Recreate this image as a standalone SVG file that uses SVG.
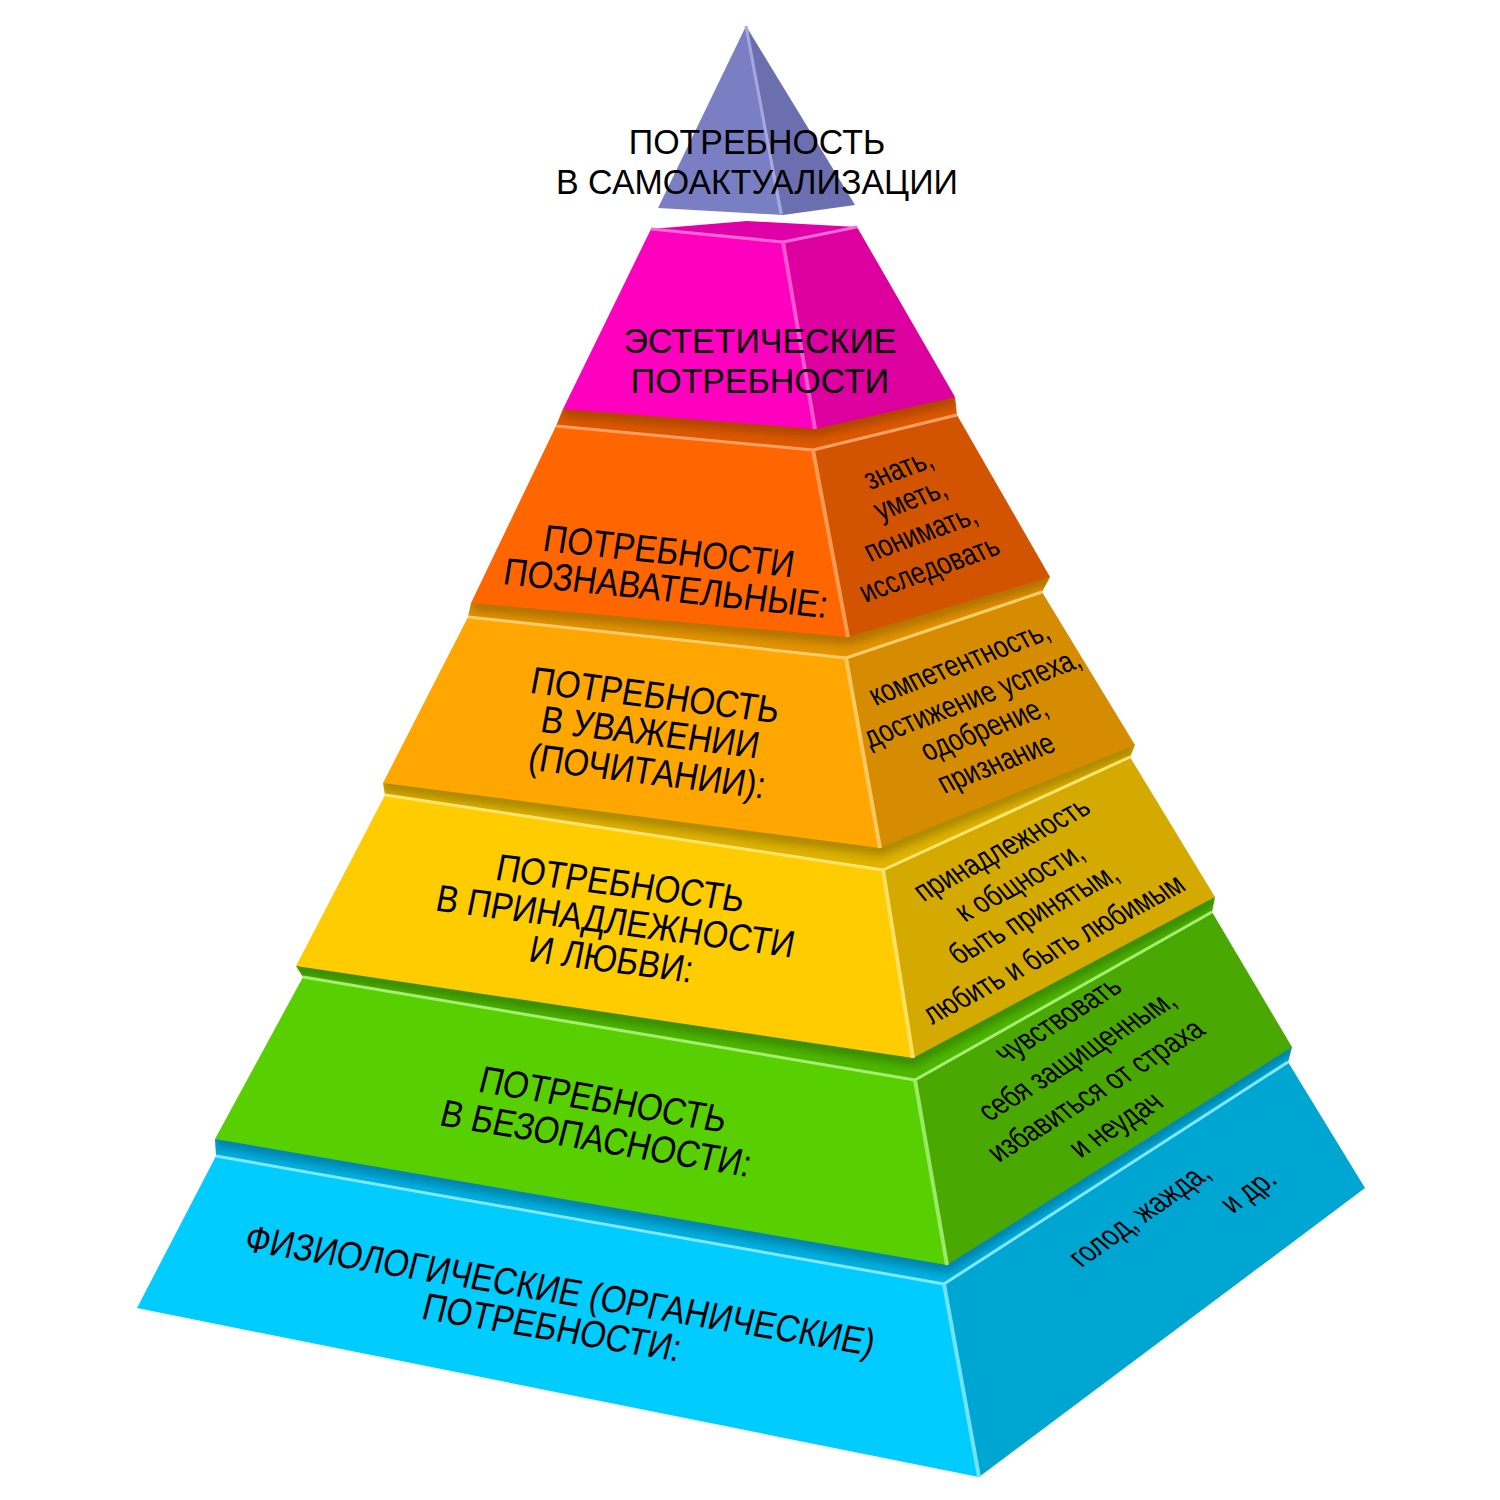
<svg xmlns="http://www.w3.org/2000/svg" width="1500" height="1500" viewBox="0 0 1500 1500">
<style>
.t{font-family:"Liberation Sans",Arial,sans-serif;font-size:38px;text-anchor:middle;fill:#000}
.tt{font-family:"Liberation Sans",Arial,sans-serif;font-size:35px;text-anchor:middle;fill:#000}
.s{font-family:"Liberation Sans",Arial,sans-serif;font-size:31px;text-anchor:middle;fill:#000}
.hl{fill:none;stroke-width:3;stroke-linejoin:round}
.sh{fill:none;stroke-width:16;opacity:0.55;filter:url(#blur)}
</style>
<defs>
<filter id="blur" x="-20%" y="-50%" width="140%" height="200%"><feGaussianBlur stdDeviation="5"/></filter>
<clipPath id="c7"><polygon points="216,1156 944,1284 1288,1062 1292,1047 700,1120 215,1139"/></clipPath>
<clipPath id="c6"><polygon points="303,977 915,1080 1212,912 1215,897 650,950 296,966"/></clipPath>
<clipPath id="c5"><polygon points="385,795 883,870 1130,757 1135,745 700,760 383,783"/></clipPath>
<clipPath id="c4"><polygon points="468,617 846,658 1042,592 1050,577 700,580 471,603"/></clipPath>
<clipPath id="c3"><polygon points="556,426 813,450 957,415 955,397 700,380 563,409"/></clipPath>
</defs>
<rect width="1500" height="1500" fill="#fff"/>

<g id="connectors"/>

<g id="level7-physiological">
<polygon points="216,1156 944,1284 1288,1062 1292,1047 700,1120 215,1139" fill="#00B2E2"/>
<polyline class="sh" clip-path="url(#c7)" points="215,1139 947,1265 1292,1047" stroke="#005F80"/>
<polygon points="216,1156 944,1284 979,1477 137,1308" fill="#00CCFF"/>
<polygon points="944,1284 1288,1062 1365,1188 979,1477" fill="#00A6D2"/>
<polyline class="hl" points="216,1156 944,1284 1288,1062" stroke="#80E8FF"/>
<line x1="944" y1="1284" x2="979" y2="1477" stroke="#70E4FF" stroke-width="4"/>
<text class="t" transform="translate(557,1303) rotate(9.5) skewX(-4.75) scale(0.87,1)">ФИЗИОЛОГИЧЕСКИЕ (ОРГАНИЧЕСКИЕ)</text>
<text class="t" transform="translate(549,1340) rotate(9.5) skewX(-4.75) scale(0.87,1)">ПОТРЕБНОСТИ:</text>
<text class="s" transform="translate(1147,1222) rotate(-35) skewX(14) scale(0.8,1)">голод, жажда,</text>
<text class="s" transform="translate(1256,1198) rotate(-35) skewX(14) scale(0.8,1)">и др.</text>
</g>

<g id="level6-safety">
<polygon points="303,977 915,1080 1212,912 1215,897 650,950 296,966" fill="#4EB800"/>
<polyline class="sh" clip-path="url(#c6)" points="296,966 913,1058 1215,897" stroke="#2A6600"/>
<polygon points="303,977 915,1080 947,1265 215,1139" fill="#58CF00"/>
<polygon points="915,1080 1212,912 1292,1047 947,1265" fill="#4AA803"/>
<polyline class="hl" points="303,977 915,1080 1212,912" stroke="#A6EE72"/>
<line x1="915" y1="1080" x2="947" y2="1265" stroke="#9BEA66" stroke-width="4"/>
<text class="t" transform="translate(600,1112) rotate(9.5) skewX(-4.75) scale(0.87,1)">ПОТРЕБНОСТЬ</text>
<text class="t" transform="translate(593,1151) rotate(9.5) skewX(-4.75) scale(0.87,1)">В БЕЗОПАСНОСТИ:</text>
<text class="s" transform="translate(1065,1027) rotate(-32) skewX(12.8) scale(0.8,1)">чувствовать</text>
<text class="s" transform="translate(1084,1063) rotate(-32) skewX(12.8) scale(0.8,1)">себя защищенным,</text>
<text class="s" transform="translate(1103,1098) rotate(-32) skewX(12.8) scale(0.8,1)">избавиться от страха</text>
<text class="s" transform="translate(1123,1132) rotate(-32) skewX(12.8) scale(0.8,1)">и неудач</text>
</g>

<g id="level5-belonging">
<polygon points="385,795 883,870 1130,757 1135,745 700,760 383,783" fill="#E0B400"/>
<polyline class="sh" clip-path="url(#c5)" points="383,783 880,848 1135,745" stroke="#806400"/>
<polygon points="385,795 883,870 913,1058 296,966" fill="#FFCC00"/>
<polygon points="883,870 1130,757 1215,897 913,1058" fill="#D4AA00"/>
<polyline class="hl" points="385,795 883,870 1130,757" stroke="#FFE470"/>
<line x1="883" y1="870" x2="913" y2="1058" stroke="#FFE060" stroke-width="4"/>
<text class="t" transform="translate(618,896) rotate(7.5) skewX(-3.75) scale(0.87,1)">ПОТРЕБНОСТЬ</text>
<text class="t" transform="translate(613,934) rotate(7.5) skewX(-3.75) scale(0.87,1)">В ПРИНАДЛЕЖНОСТИ</text>
<text class="t" transform="translate(609,972) rotate(7.5) skewX(-3.75) scale(0.87,1)">И ЛЮБВИ:</text>
<text class="s" transform="translate(1008,857) rotate(-28) skewX(11.2) scale(0.8,1)">принадлежность</text>
<text class="s" transform="translate(1026,890) rotate(-28) skewX(11.2) scale(0.8,1)">к общности,</text>
<text class="s" transform="translate(1040,922) rotate(-28) skewX(11.2) scale(0.8,1)">быть принятым,</text>
<text class="s" transform="translate(1060,957) rotate(-28) skewX(11.2) scale(0.8,1)">любить и быть любимым</text>
</g>

<g id="level4-esteem">
<polygon points="468,617 846,658 1042,592 1050,577 700,580 471,603" fill="#E39400"/>
<polyline class="sh" clip-path="url(#c4)" points="471,603 848,637 1050,577" stroke="#8A5600"/>
<polygon points="468,617 846,658 880,848 383,783" fill="#FFA600"/>
<polygon points="846,658 1042,592 1135,745 880,848" fill="#D68C00"/>
<polyline class="hl" points="468,617 846,658 1042,592" stroke="#FFCB6B"/>
<line x1="846" y1="658" x2="880" y2="848" stroke="#FFC860" stroke-width="4"/>
<text class="t" transform="translate(653,708) rotate(7) skewX(-3.5) scale(0.87,1)">ПОТРЕБНОСТЬ</text>
<text class="t" transform="translate(648,745) rotate(7) skewX(-3.5) scale(0.87,1)">В УВАЖЕНИИ</text>
<text class="t" transform="translate(645,784) rotate(7) skewX(-3.5) scale(0.87,1)">(ПОЧИТАНИИ):</text>
<text class="s" transform="translate(964,672) rotate(-21) skewX(8.4) scale(0.8,1)">компетентность,</text>
<text class="s" transform="translate(977,707) rotate(-21) skewX(8.4) scale(0.8,1)">достижение успеха,</text>
<text class="s" transform="translate(989,738) rotate(-21) skewX(8.4) scale(0.8,1)">одобрение,</text>
<text class="s" transform="translate(1001,772) rotate(-21) skewX(8.4) scale(0.8,1)">признание</text>
</g>

<g id="level3-cognitive">
<polygon points="556,426 813,450 957,415 955,397 700,380 563,409" fill="#DD5A00"/>
<polyline class="sh" clip-path="url(#c3)" points="563,409 815,429 955,397" stroke="#8A3400"/>
<polygon points="556,426 813,450 848,637 471,603" fill="#FF6600"/>
<polygon points="813,450 957,415 1050,577 848,637" fill="#D35400"/>
<polyline class="hl" points="556,426 813,450 957,415" stroke="#FFA066"/>
<line x1="813" y1="450" x2="848" y2="637" stroke="#FF9A55" stroke-width="4"/>
<text class="t" transform="translate(667,564) rotate(6) skewX(-3) scale(0.87,1)">ПОТРЕБНОСТИ</text>
<text class="t" transform="translate(664,601) rotate(6) skewX(-3) scale(0.87,1)">ПОЗНАВАТЕЛЬНЫЕ:</text>
<text class="s" transform="translate(903,478) rotate(-20) skewX(8) scale(0.8,1)">знать,</text>
<text class="s" transform="translate(915,508) rotate(-20) skewX(8) scale(0.8,1)">уметь,</text>
<text class="s" transform="translate(925,542) rotate(-20) skewX(8) scale(0.8,1)">понимать,</text>
<text class="s" transform="translate(934,578) rotate(-20) skewX(8) scale(0.8,1)">исследовать</text>
</g>

<g id="level2-aesthetic">
<polygon points="651,229 747,221 857,227 783,242" fill="#E000A8"/>
<polygon points="651,229 783,242 815,429 563,409" fill="#FF00BF"/>
<polygon points="783,242 857,227 955,397 815,429" fill="#DC009E"/>
<polyline class="hl" points="651,229 783,242 857,227" stroke="#FF66D8"/>
<line x1="783" y1="242" x2="815" y2="429" stroke="#FF55D2" stroke-width="4"/>
<text class="tt" transform="translate(760,353) scale(0.97,1)">ЭСТЕТИЧЕСКИЕ</text>
<text class="tt" transform="translate(760,393) scale(0.97,1)">ПОТРЕБНОСТИ</text>
</g>

<g id="level1-selfactualization">
<polygon points="746,26 658,208 783,215" fill="#7A7FC4"/>
<polygon points="746,26 783,215 855,205" fill="#6B6FAF"/>
<line x1="746" y1="26" x2="781" y2="214" stroke="#A5A8E0" stroke-width="3"/>
<text class="tt" transform="translate(757,154) scale(0.97,1)">ПОТРЕБНОСТЬ</text>
<text class="tt" transform="translate(757,194) scale(0.97,1)">В САМОАКТУАЛИЗАЦИИ</text>
</g>
</svg>
